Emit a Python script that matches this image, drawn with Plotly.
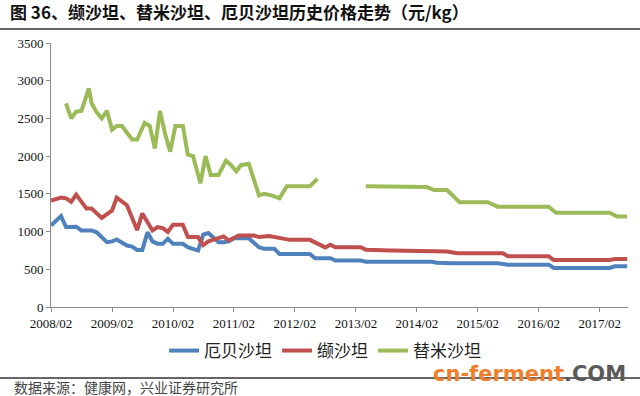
import plotly.graph_objects as go

# 厄贝沙坦 (blue)
irb_dates = ["2008-02-01", "2008-04-01", "2008-05-01", "2008-07-01", "2008-08-01", "2008-10-01",
             "2008-11-01", "2009-01-01", "2009-02-01", "2009-03-01", "2009-05-01", "2009-06-01",
             "2009-07-01", "2009-08-01", "2009-09-01", "2009-10-01", "2009-11-01", "2009-12-01",
             "2010-01-01", "2010-02-01", "2010-04-01", "2010-05-01", "2010-07-01", "2010-08-01",
             "2010-09-01", "2010-11-01", "2010-12-01", "2011-01-01", "2011-02-01", "2011-05-01",
             "2011-07-01", "2011-08-01", "2011-10-01", "2011-11-01", "2012-05-01", "2012-06-01",
             "2012-09-01", "2012-10-01", "2013-03-01", "2013-04-01", "2014-05-01", "2014-06-01",
             "2014-09-01", "2015-06-01", "2015-08-01", "2016-04-01", "2016-05-01", "2017-04-01",
             "2017-05-01", "2017-07-15"]
irb_vals = [1080, 1205, 1060, 1065, 1015, 1015,
            990, 860, 870, 895, 815, 800,
            757, 757, 990, 870, 837, 837,
            904, 837, 837, 793, 748, 960,
            980, 860, 860, 870, 912, 912,
            793, 771, 771, 704, 704, 646,
            646, 615, 615, 601, 601, 588,
            579, 579, 561, 561, 517, 517,
            539, 539]

# 缬沙坦 (red)
val_dates = ["2008-02-01", "2008-04-01", "2008-05-01", "2008-06-01", "2008-07-01", "2008-09-01",
             "2008-10-01", "2008-12-01", "2009-02-01", "2009-03-01", "2009-05-01", "2009-07-01",
             "2009-08-01", "2009-10-01", "2009-11-01", "2009-12-01", "2010-01-01", "2010-02-01",
             "2010-04-01", "2010-05-01", "2010-07-01", "2010-08-01", "2010-09-01", "2010-11-01",
             "2010-12-01", "2011-01-01", "2011-03-01", "2011-06-01", "2011-07-01", "2011-09-01",
             "2011-11-01", "2012-01-01", "2012-05-01", "2012-06-01", "2012-08-01", "2012-09-01",
             "2012-10-01", "2013-03-01", "2013-04-01", "2013-09-01", "2014-05-01", "2014-06-01",
             "2014-08-01", "2014-10-01", "2015-07-01", "2015-08-01", "2016-04-01", "2016-05-01",
             "2017-04-01", "2017-05-01", "2017-07-15"]
val_vals = [1410, 1450, 1440, 1395, 1490, 1305,
            1305, 1180, 1280, 1450, 1350, 1020,
            1240, 1015, 1060, 1046, 995, 1090,
            1090, 927, 927, 820, 870, 912,
            935, 882, 948, 948, 927, 940,
            912, 890, 890, 860, 790, 826,
            793, 793, 760, 748, 748, 735,
            735, 712, 712, 672, 672, 623,
            623, 637, 637]

# 替米沙坦 (green)
tel_dates = ["2008-05-01", "2008-06-01", "2008-07-01", "2008-08-01", "2008-09-15", "2008-10-01",
             "2008-11-01", "2008-12-01", "2009-01-01", "2009-02-01", "2009-03-01", "2009-04-01",
             "2009-06-01", "2009-07-01", "2009-08-15", "2009-09-15", "2009-10-15", "2009-11-15",
             "2009-12-15", "2010-01-15", "2010-02-15", "2010-04-01", "2010-05-01", "2010-06-01",
             "2010-07-15", "2010-08-15", "2010-09-15", "2010-11-01", "2010-12-15", "2011-01-15",
             "2011-02-15", "2011-03-15", "2011-05-01", "2011-07-01", "2011-08-01", "2011-09-15",
             "2011-11-01", "2011-12-15", "2012-05-01", "2012-06-15", "2012-11-01", "2013-04-01",
             "2013-12-01", "2014-04-01", "2014-05-15", "2014-08-01", "2014-10-15", "2015-04-01",
             "2015-06-01", "2016-04-01", "2016-05-15", "2017-04-01", "2017-05-15", "2017-07-15"]
tel_vals = [2700, 2500, 2590, 2600, 2900, 2700,
            2580, 2500, 2600, 2350, 2400, 2400,
            2220, 2220, 2440, 2400, 2100, 2600,
            2300, 2060, 2400, 2400, 2020, 2000,
            1640, 2000, 1750, 1750, 1940, 1880,
            1800, 1880, 1900, 1480, 1500, 1480,
            1440, 1600, 1600, 1700, None, 1600,
            1600, 1590, 1550, 1550, 1390, 1390,
            1330, 1330, 1250, 1250, 1200, 1200]

x_tickvals = ["2008-02-01", "2009-02-01", "2010-02-01", "2011-02-01", "2012-02-01",
              "2013-02-01", "2014-02-01", "2015-02-01", "2016-02-01", "2017-02-01"]
x_ticktext = ["2008/02", "2009/02", "2010/02", "2011/02", "2012/02",
              "2013/02", "2014/02", "2015/02", "2016/02", "2017/02"]
y_tickvals = [0, 500, 1000, 1500, 2000, 2500, 3000, 3500]

series_names = ["厄贝沙坦", "缬沙坦", "替米沙坦"]
colors = ["#4F81BD", "#C0504D", "#9BBB59"]

fig = go.Figure()
for name, xs, ys, c in zip(series_names, [irb_dates, val_dates, tel_dates],
                           [irb_vals, val_vals, tel_vals], colors):
    fig.add_trace(go.Scatter(x=xs, y=ys, mode="lines", name=name,
                             line=dict(color=c, width=4), connectgaps=False))

W, H = 640, 396
L, R, T, B = 51, 12, 43, 89
pw, ph = W - L - R, H - T - B


def px_x(p):
    return (p - L) / pw


def px_y(p):
    return (H - B - p) / ph


serif = "Liberation Serif, Times New Roman, Noto Sans CJK SC, serif"
cjk = "Noto Sans CJK SC, sans-serif"

fig.update_layout(
    width=W, height=H,
    margin=dict(l=L, r=R, t=T, b=B, pad=0),
    paper_bgcolor="white", plot_bgcolor="white",
    showlegend=True,
    legend=dict(orientation="h", x=0.475, xanchor="center", y=px_y(351), yanchor="middle",
                font=dict(family=cjk, size=17, color="#222"), itemwidth=30,
                bgcolor="rgba(0,0,0,0)"),
    title=dict(text="<b>图 36、缬沙坦、替米沙坦、厄贝沙坦历史价格走势（元/kg）</b>",
               x=10 / W, xanchor="left", y=1 - 13 / H, yanchor="middle",
               font=dict(family=cjk, size=17, color="#111")),
    xaxis=dict(type="date", range=["2008-02-01", "2017-07-20"],
               tickvals=x_tickvals, ticktext=x_ticktext,
               showline=True, linecolor="#8C8C8C", linewidth=1,
               ticks="outside", ticklen=4, tickcolor="#8C8C8C",
               showgrid=False, zeroline=False,
               tickfont=dict(family=serif, size=13, color="#111")),
    yaxis=dict(range=[0, 3500], tickvals=y_tickvals,
               showline=True, linecolor="#8C8C8C", linewidth=1,
               ticks="outside", ticklen=4, tickcolor="#8C8C8C",
               showgrid=False, zeroline=False,
               tickfont=dict(family=serif, size=13, color="#111")),
    shapes=[
        dict(type="line", xref="paper", yref="paper", x0=px_x(0), x1=px_x(W),
             y0=px_y(29), y1=px_y(29), line=dict(color="#333", width=1.5)),
        dict(type="line", xref="paper", yref="paper", x0=px_x(0), x1=px_x(W),
             y0=px_y(378), y1=px_y(378), line=dict(color="#333", width=1.5)),
    ],
    annotations=[
        dict(text="数据来源：健康网，兴业证券研究所", xref="paper", yref="paper",
             x=px_x(12), y=px_y(387), xanchor="left", yanchor="middle", showarrow=False,
             font=dict(family=cjk, size=14, color="#444")),
        dict(text="<span style='color:#F07F2C'>cn-ferment</span><span style='color:#595959'>.COM</span>",
             xref="paper", yref="paper", x=px_x(628), y=px_y(374), xanchor="right",
             yanchor="middle", showarrow=False,
             font=dict(family="DejaVu Sans", size=21, color="#F07F2C", weight="bold")),
    ],
)

fig.write_html("out.html", config={"displayModeBar": False},
               post_script="document.body.style.margin='0px';document.body.style.overflow='hidden';")
